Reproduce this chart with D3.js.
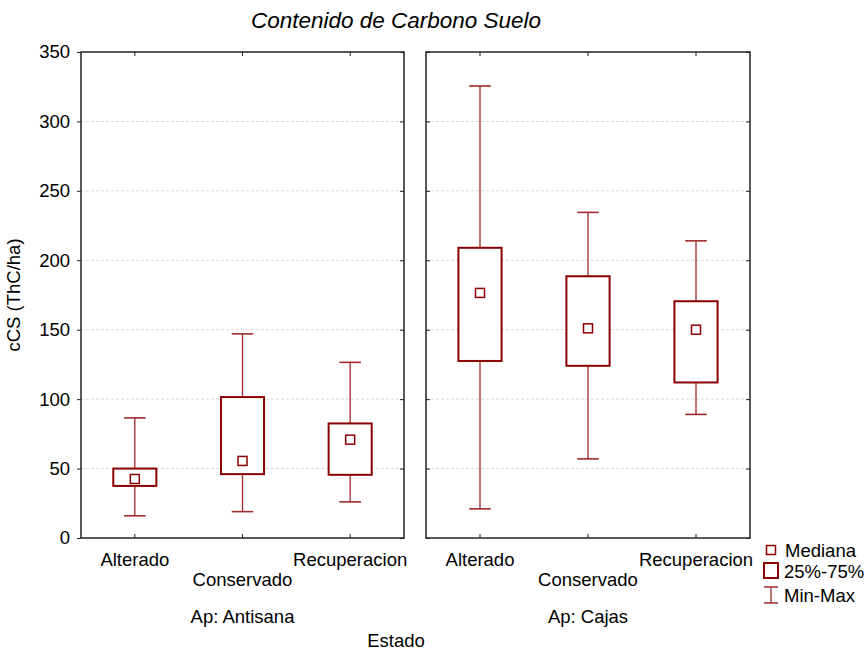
<!DOCTYPE html>
<html><head><meta charset="utf-8">
<script src="https://cdn.jsdelivr.net/npm/d3@7"></script>
<style>body{margin:0;background:#fff}svg{display:block;font-family:"Liberation Sans",Arial,sans-serif}</style>
</head><body><svg id="c" width="864" height="651"></svg>
<script>
const panels = ["Ap: Antisana", "Ap: Cajas"];
const categories = ["Alterado", "Conservado", "Recuperacion"];
const yTicks = [0, 50, 100, 150, 200, 250, 300, 350];
// per panel, per category
const mins    = [[16, 19, 26], [21, 57, 89]];
const q1s     = [[37.5, 46, 45.5], [127.5, 124, 112]];
const medians = [[42.5, 55.5, 70.8], [176.5, 151, 150]];
const q3s     = [[50, 101.5, 82.5], [209, 188.5, 170.5]];
const maxs    = [[86.5, 147, 126.5], [325.5, 234.5, 214]];

const svg = d3.select("#c");
const dark = "#8b0000", whisk = "#9e2a2a";
const fs = 18.5;
const plotTop = 52, plotBottom = 538;
const panelX = [[81, 404], [426, 750]];
const y = d3.scaleLinear().domain([0, 350]).range([plotBottom, plotTop]);

svg.append("text").attr("x", 396).attr("y", 28).attr("text-anchor", "middle")
  .attr("font-size", 22.5).attr("font-style", "italic").text("Contenido de Carbono Suelo");

panels.forEach((pn, p) => {
  const [x0, x1] = panelX[p];
  const x = d3.scaleBand().domain(categories).range([x0, x1]);
  const g = svg.append("g");
  g.selectAll(".grid").data(yTicks.filter(t => t > 0 && t < 350)).join("line")
    .attr("x1", x0).attr("x2", x1).attr("y1", d => y(d)).attr("y2", d => y(d))
    .attr("stroke", "#d8d8d8").attr("stroke-dasharray", "3,2").attr("stroke-width", 1);
  const yl = p === 0 ? d3.axisLeft(y).tickValues(yTicks).tickSize(4) : d3.axisRight(y).tickValues(yTicks).tickSize(4).tickFormat("");
  const ga = g.append("g").attr("transform", `translate(${x0},0)`).call(yl);
  ga.select(".domain").remove();
  ga.selectAll("line").attr("stroke", "#222");
  ga.selectAll("text").attr("font-size", fs).attr("fill", "#000").attr("font-family", '"Liberation Sans",Arial,sans-serif').attr("dx", p === 0 ? -4 : 0);
  const gr = g.append("g").attr("transform", `translate(${x1},0)`).call(d3.axisLeft(y).tickValues(yTicks).tickSize(4).tickFormat(""));
  gr.select(".domain").remove(); gr.selectAll("line").attr("stroke", "#222");
  const cx = d => x(d) + x.bandwidth() / 2;
  const gb = g.append("g").attr("transform", `translate(0,${plotBottom})`).call(d3.axisTop(x).tickSize(4).tickFormat(""));
  gb.select(".domain").remove(); gb.selectAll("line").attr("stroke", "#222");
  const gt = g.append("g").attr("transform", `translate(0,${plotTop})`).call(d3.axisBottom(x).tickSize(4).tickFormat(""));
  gt.select(".domain").remove(); gt.selectAll("line").attr("stroke", "#222");
  g.append("rect").attr("x", x0).attr("y", plotTop).attr("width", x1 - x0).attr("height", plotBottom - plotTop)
    .attr("fill", "none").attr("stroke", "#222").attr("stroke-width", 1.5);
  categories.forEach((c, i) => {
    g.append("text").attr("x", cx(c)).attr("y", i === 1 ? 586 : 566).attr("text-anchor", "middle")
      .attr("font-size", fs).text(c);
  });
  g.append("text").attr("x", (x0 + x1) / 2).attr("y", 623).attr("text-anchor", "middle").attr("font-size", fs).text(pn);
  const bw = x.bandwidth() * 0.4, cw = x.bandwidth() * 0.2;
  categories.forEach((c, i) => {
    const xc = cx(c);
    g.append("line").attr("x1", xc).attr("x2", xc).attr("y1", y(maxs[p][i])).attr("y2", y(q3s[p][i])).attr("stroke", whisk).attr("stroke-width", 1.3);
    g.append("line").attr("x1", xc).attr("x2", xc).attr("y1", y(q1s[p][i])).attr("y2", y(mins[p][i])).attr("stroke", whisk).attr("stroke-width", 1.3);
    [maxs[p][i], mins[p][i]].forEach(v => g.append("line").attr("x1", xc - cw / 2).attr("x2", xc + cw / 2)
      .attr("y1", y(v)).attr("y2", y(v)).attr("stroke", whisk).attr("stroke-width", 1.6));
    g.append("rect").attr("x", xc - bw / 2).attr("width", bw).attr("y", y(q3s[p][i])).attr("height", y(q1s[p][i]) - y(q3s[p][i]))
      .attr("fill", "#fff").attr("stroke", dark).attr("stroke-width", 2);
    g.append("rect").attr("x", xc - 4.5).attr("y", y(medians[p][i]) - 4.5).attr("width", 9).attr("height", 9)
      .attr("fill", "#fff").attr("stroke", dark).attr("stroke-width", 1.5);
  });
});

svg.append("text").attr("transform", "translate(20,295) rotate(-90)").attr("text-anchor", "middle").attr("font-size", fs).text("cCS (ThC/ha)");
svg.append("text").attr("x", 396).attr("y", 647).attr("text-anchor", "middle").attr("font-size", fs).text("Estado");

const lg = svg.append("g");
lg.append("rect").attr("x", 766.5).attr("y", 545.5).attr("width", 9).attr("height", 9).attr("fill", "#fff").attr("stroke", dark).attr("stroke-width", 1.5);
lg.append("text").attr("x", 785).attr("y", 557).attr("font-size", fs).text("Mediana");
lg.append("rect").attr("x", 764).attr("y", 563).attr("width", 14).attr("height", 15).attr("fill", "#fff").attr("stroke", dark).attr("stroke-width", 2);
lg.append("text").attr("x", 784).attr("y", 578).attr("font-size", fs).text("25%-75%");
lg.append("line").attr("x1", 771).attr("x2", 771).attr("y1", 587).attr("y2", 603).attr("stroke", whisk).attr("stroke-width", 1.3);
lg.append("line").attr("x1", 764).attr("x2", 778).attr("y1", 587).attr("y2", 587).attr("stroke", whisk).attr("stroke-width", 1.5);
lg.append("line").attr("x1", 764).attr("x2", 778).attr("y1", 603).attr("y2", 603).attr("stroke", whisk).attr("stroke-width", 1.5);
lg.append("text").attr("x", 784).attr("y", 602).attr("font-size", fs).text("Min-Max");
</script></body></html>
